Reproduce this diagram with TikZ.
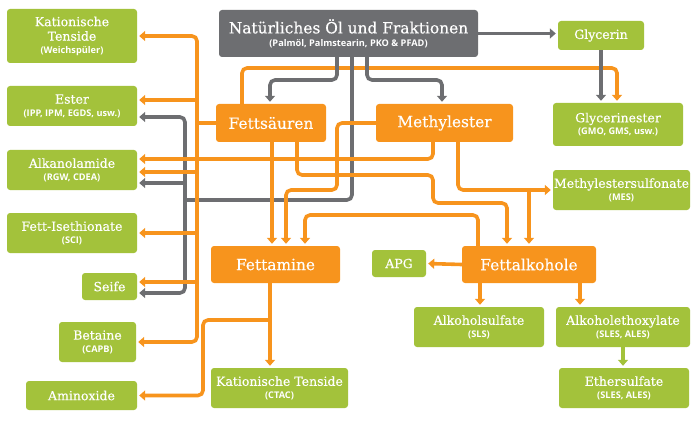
\documentclass[tikz,border=0pt]{standalone}
\usepackage{fontspec}
\setmainfont{DejaVu Serif}[FakeBold=0.3]
\newfontfamily\subsans{Open Sans}
\usetikzlibrary{arrows.meta,calc}
\definecolor{cor}{HTML}{F7941D}
\definecolor{cgr}{HTML}{A3C23B}
\definecolor{cgy}{HTML}{6D6E71}
\newcommand{\subt}[1]{{\subsans\bfseries\fontsize{9.2}{10}\selectfont #1}}
\tikzset{
  box/.style={rounded corners=3pt, text=white, align=center, inner sep=0pt, font=\fontsize{12.5}{14.5}\selectfont},
  gbox/.style={box, fill=cgr},
  obox/.style={box, fill=cor, font=\fontsize{15.4}{17}\selectfont},
  ybox/.style={box, fill=cgy, font=\fontsize{15.4}{16}\selectfont},
  sz/.style 2 args={minimum width=#1pt, minimum height=#2pt},
  ol/.style={draw=cor, line width=3.6pt, rounded corners=5pt},
  gl/.style={draw=cgy, line width=3.6pt, rounded corners=5pt},
  grl/.style={draw=cgr, line width=3.6pt},
  tip/.style={-{Triangle[width=10pt,length=6pt]}, shorten >=2pt}
}
\begin{document}
\begin{tikzpicture}[x=1pt,y=-1pt]
\useasboundingbox (0,0) rectangle (700,422);
% nodes
\node[gbox, sz={130}{54}] (kt1) at (72,36) {Kationische\\Tenside\\[-2pt]\subt{(Weichspüler)}};
\node[gbox, sz={130}{40}] (ester) at (72,106) {Ester\\[-2pt]\subt{(IPP, IPM, EGDS, usw.)}};
\node[gbox, sz={130}{40}] (alk) at (72,170) {Alkanolamide\\[-2pt]\subt{(RGW, CDEA)}};
\node[gbox, sz={130}{40}] (fi) at (72,233) {Fett-Isethionate\\[-2pt]\subt{(SCI)}};
\node[gbox, sz={55}{27}] (seife) at (109.5,286.5) {Seife};
\node[gbox, sz={77}{40}] (bet) at (97.5,342) {Betaine\\[-2pt]\subt{(CAPB)}};
\node[gbox, sz={111}{29}] (amin) at (81.5,395.5) {Aminoxide};
\node[ybox, sz={259}{47}] (oel) at (348.5,33.5) {Natürliches Öl und Fraktionen\\[-3pt]\subt{(Palmöl, Palmstearin, PKO \& PFAD)}};
\node[gbox, sz={86}{29}] (gly) at (601,35.5) {Glycerin};
\node[gbox, sz={130}{43}] (glyest) at (618,124.5) {Glycerinester\\[-2pt]\subt{(GMO, GMS, usw.)}};
\node[obox, sz={110}{38}] (fs) at (271,123) {Fettsäuren};
\node[obox, sz={137}{38}] (me) at (444.5,123) {Methylester};
\node[gbox, sz={137}{40}] (mes) at (621.5,190) {Methylestersulfonate\\[-2pt]\subt{(MES)}};
\node[obox, sz={129}{37}] (fa) at (275.5,264.5) {Fettamine};
\node[gbox, sz={54}{27}] (apg) at (399,263.5) {APG};
\node[obox, sz={134}{37}] (falk) at (529,264.5) {Fettalkohole};
\node[gbox, sz={130}{40}] (as) at (479,327) {Alkoholsulfate\\[-2pt]\subt{(SLS)}};
\node[gbox, sz={134}{40}] (ae) at (623,327) {Alkoholethoxylate\\[-2pt]\subt{(SLES, ALES)}};
\node[gbox, sz={130}{40}] (es) at (624,388) {Ethersulfate\\[-2pt]\subt{(SLES, ALES)}};
\node[gbox, sz={137}{40}] (kt2) at (279.5,388) {Kationische Tenside\\[-2pt]\subt{(CTAC)}};
% helper coordinates
\foreach \v in {185,197,203,242,270,272,286,297,305,337,352,367,433,442,458,478,480,507,529,580,617,623}
  {\coordinate (x\v) at (\v,0);}
\foreach \v in {35,68,80,100,117,159,172,175,183,190,200,203,215,282,293,320}
  {\coordinate (y\v) at (0,\v);}
% orange line under the grey ones
\draw[ol,tip] (fs.north -| x242) |- (x617 |- y68) -- (glyest.north -| x617);
% grey lines
\draw[gl,tip] (oel.east) -- (oel.east -| gly.west);
\draw[gl,tip] (gly.south) -- (gly.south |- glyest.north);
\draw[gl,tip] (oel.south -| x337) |- (x270 |- y80) -- (fs.north -| x270);
\draw[gl,tip] (oel.south -| x367) |- (x442 |- y80) -- (me.north -| x442);
\draw[gl] (oel.south -| x352) |- (x185 |- y200);
\draw[gl,tip] (x185 |- y200) |- (ester.east |- y117);
\draw[gl,tip] (x185 |- y200) |- (seife.east |- y293);
\draw[gl,tip] (x185 |- y183) -- (alk.east |- y183);
% orange lines
\draw[ol] (fs.west) -- (x197 |- fs.west);
\draw[ol,tip] (x197 |- fs.west) |- (kt1.east);
\draw[ol,tip] (x197 |- fs.west) |- (bet.east);
\draw[ol,tip] (x197 |- y100) -- (ester.east |- y100);
\draw[ol,tip] (x197 |- y172) -- (alk.east |- y172);
\draw[ol,tip] (x197 |- fi.east) -- (fi.east);
\draw[ol,tip] (x197 |- y282) -- (seife.east |- y282);
\draw[ol,tip] (me.south -| x433) |- (alk.east |- y159);
\draw[ol,tip] (fs.south -| x272) -- (fa.north -| x272);
\draw[ol,tip] (fs.south -| x297) |- (x433 |- y175) |- (x507 |- y203) -- (falk.north -| x507);
\draw[ol,tip] (me.west) -| (x337 |- y190) -| (fa.north -| x286);
\draw[ol,tip] (falk.north -| x478) |- (x305 |- y215) -- (fa.north -| x305);
\draw[ol,tip] (me.south -| x458) |- (mes.west);
\draw[ol,tip] (x529 |- mes.west) -- (falk.north -| x529);
\draw[ol,tip] (falk.west) -- (apg.east);
\draw[ol,tip] (falk.south -| x480) -- (as.north -| x480);
\draw[ol,tip] (falk.south -| x580) -- (ae.north -| x580);
\draw[ol,tip] (fa.south -| x270) -- (kt2.north -| x270);
\draw[ol,tip] (x270 |- y320) -| (x203 |- amin.east) -- (amin.east);
\draw[grl,tip] (ae.south -| x623) -- (es.north -| x623);
\end{tikzpicture}
\end{document}
